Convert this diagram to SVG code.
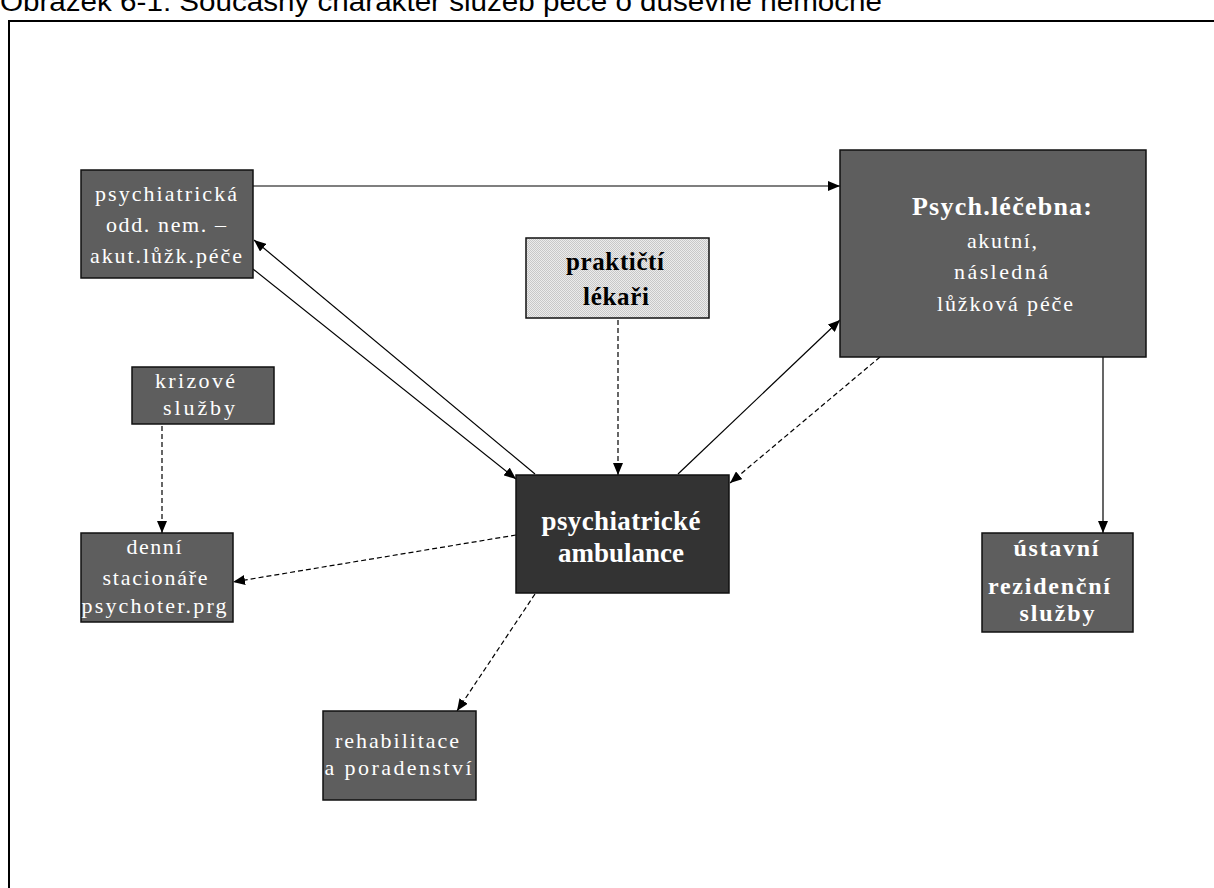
<svg xmlns="http://www.w3.org/2000/svg" width="1214" height="888" viewBox="0 0 1214 888">
<style>
.box{fill:#5e5e5e;stroke:#111;stroke-width:1.5}
.dark{fill:#333333;stroke:#111;stroke-width:1.5}
.t{font-family:"Liberation Serif","DejaVu Serif",serif;fill:#ffffff;font-size:22px;text-anchor:middle}
.b{font-weight:bold}
.s22{font-size:24px}
.s23{font-size:26px}
.s24{font-size:25px}
.s27{font-size:27px}
.blk{fill:#000}
.c{fill:none;stroke:#000;stroke-width:1.2;marker-end:url(#ah)}
.d{stroke-dasharray:5 3}
</style>
<defs>
<marker id="ah" viewBox="0 0 12 10" refX="12" refY="5" markerWidth="12" markerHeight="10" markerUnits="userSpaceOnUse" orient="auto">
<path d="M0,0 L12,5 L0,10 Z" fill="#000"/>
</marker>
<pattern id="dots" width="2" height="2" patternUnits="userSpaceOnUse">
<rect width="2" height="2" fill="#ececec"/>
<rect width="1" height="1" fill="#c8c8c8"/>
<rect x="1" y="1" width="1" height="1" fill="#c8c8c8"/>
</pattern>
</defs>
<rect width="1214" height="888" fill="#fff"/>
<text x="0" y="11" font-family="Liberation Sans, Arial, sans-serif" font-size="27" textLength="882" lengthAdjust="spacingAndGlyphs" fill="#000">Obrázek 6-1: Současný charakter služeb péče o duševně nemocné</text>
<rect x="9" y="21" width="1230" height="900" fill="none" stroke="#000" stroke-width="2"/>

<g id="connectors">
<line class="c" x1="253" y1="186" x2="840" y2="186"/>
<line class="c" x1="535" y1="474" x2="254" y2="240"/>
<line class="c" x1="253" y1="269" x2="516" y2="479"/>
<line class="c d" x1="618" y1="320" x2="618" y2="475"/>
<line class="c" x1="678" y1="474" x2="840" y2="320"/>
<line class="c d" x1="880" y1="357" x2="730" y2="483"/>
<line class="c" x1="1103" y1="357" x2="1103" y2="533"/>
<line class="c d" x1="162" y1="426" x2="162" y2="533"/>
<line class="c d" x1="516" y1="535" x2="233" y2="582"/>
<line class="c d" x1="535" y1="594" x2="457" y2="711"/>
</g>

<g id="psych-odd">
<rect class="box" x="81" y="170" width="172" height="108"/>
<text class="t" x="166" y="201" textLength="142" lengthAdjust="spacing">psychiatrická</text>
<text class="t" x="166" y="232" textLength="120" lengthAdjust="spacing">odd. nem. –</text>
<text class="t" x="166" y="263" textLength="152" lengthAdjust="spacing">akut.lůžk.péče</text>
</g>

<g id="lecebna">
<rect class="box" x="840" y="150" width="306" height="207"/>
<text class="t b s23" x="1002" y="215" textLength="180" lengthAdjust="spacing">Psych.léčebna:</text>
<text class="t" x="1002" y="248" textLength="70" lengthAdjust="spacing">akutní,</text>
<text class="t" x="1001" y="279" textLength="94" lengthAdjust="spacing">následná</text>
<text class="t" x="1005" y="311" textLength="136" lengthAdjust="spacing">lůžková péče</text>
</g>

<g id="prakticti">
<rect x="526" y="238" width="183" height="80" fill="url(#dots)" stroke="#111" stroke-width="1.5"/>
<text class="t b s24 blk" x="615" y="270" textLength="98" lengthAdjust="spacing">praktičtí</text>
<text class="t b s24 blk" x="616" y="305" textLength="66" lengthAdjust="spacing">lékaři</text>
</g>

<g id="krizove">
<rect class="box" x="132" y="367" width="142" height="57"/>
<text class="t" x="195" y="388" textLength="80" lengthAdjust="spacing">krizové</text>
<text class="t" x="199" y="415" textLength="72" lengthAdjust="spacing">služby</text>
</g>

<g id="denni">
<rect class="box" x="81" y="533" width="152" height="89"/>
<text class="t" x="154" y="554" textLength="55" lengthAdjust="spacing">denní</text>
<text class="t" x="155" y="585" textLength="105" lengthAdjust="spacing">stacionáře</text>
<text class="t" x="154" y="613" textLength="145" lengthAdjust="spacing">psychoter.prg</text>
</g>

<g id="ambulance">
<rect class="dark" x="516" y="475" width="213" height="118"/>
<text class="t b s27" x="621" y="530" textLength="159" lengthAdjust="spacing">psychiatrické</text>
<text class="t b s27" x="621" y="562" textLength="126" lengthAdjust="spacing">ambulance</text>
</g>

<g id="ustavni">
<rect class="box" x="982" y="533" width="151" height="99"/>
<text class="t b s22" x="1056" y="556" textLength="85" lengthAdjust="spacing">ústavní</text>
<text class="t b s22" x="1049" y="594" textLength="122" lengthAdjust="spacing">rezidenční</text>
<text class="t b s22" x="1057" y="621" textLength="75" lengthAdjust="spacing">služby</text>
</g>

<g id="rehabilitace">
<rect class="box" x="323" y="711" width="153" height="89"/>
<text class="t" x="397" y="748" textLength="124" lengthAdjust="spacing">rehabilitace</text>
<text class="t" x="398" y="775" textLength="147" lengthAdjust="spacing">a poradenství</text>
</g>
</svg>
